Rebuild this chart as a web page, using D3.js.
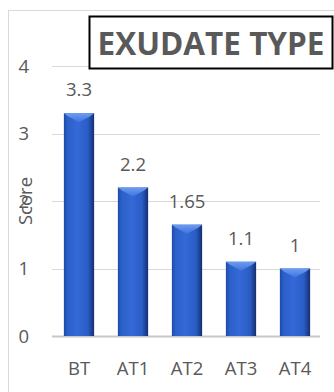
<!DOCTYPE html>
<html>
<head>
<meta charset="utf-8">
<script src="https://cdn.jsdelivr.net/npm/d3@7"></script>
<style>
  html, body { margin: 0; padding: 0; background: #fff; }
  svg { display: block; }
</style>
</head>
<body>
<svg id="chart" width="334" height="392"></svg>
<script>
// Exudate score before treatment (BT) and after each treatment (AT1..AT4)
const categories = ["BT", "AT1", "AT2", "AT3", "AT4"];
const scores = [3.3, 2.2, 1.65, 1.1, 1];
const valueLabels = ["3.3", "2.2", "1.65", "1.1", "1"];
const yTicks = [0, 1, 2, 3, 4];
const chartTitle = "EXUDATE TYPE";
const yAxisTitle = "Score";

const svg = d3.select("#chart");
const font = "'Open Sans', 'Noto Sans', sans-serif";
const textColor = "#595959";
const labelSize = 18.5;

const plot = { left: 52, right: 322, top: 66, bottom: 336 };

const x = d3.scaleBand()
  .domain(categories)
  .range([plot.left, plot.right])
  .paddingInner(0.44)
  .paddingOuter(0.22);

const y = d3.scaleLinear()
  .domain([0, 4])
  .range([plot.bottom, plot.top]);

// Chart area frame
svg.append("rect")
  .attr("x", 8.5).attr("y", 10.5)
  .attr("width", 340).attr("height", 400)
  .attr("fill", "#fff")
  .attr("stroke", "#d9d9d9")
  .attr("stroke-width", 1);

// Gradients for the bevelled bars
const defs = svg.append("defs");
const body = defs.append("linearGradient").attr("id", "barBody")
  .attr("x1", "0").attr("x2", "1").attr("y1", "0").attr("y2", "0");
[[0, "#1d4aa8"], [0.12, "#2b5fc8"], [0.45, "#3469d8"], [0.8, "#2a5cc4"], [1, "#142f6e"]]
  .forEach(([o, c]) => body.append("stop").attr("offset", o).attr("stop-color", c));
const cap = defs.append("linearGradient").attr("id", "barCap")
  .attr("x1", "0").attr("x2", "0").attr("y1", "0").attr("y2", "1");
[[0, "#6d9cf0"], [1, "#3f74dc"]]
  .forEach(([o, c]) => cap.append("stop").attr("offset", o).attr("stop-color", c));

// Horizontal gridlines
svg.append("g")
  .selectAll("line")
  .data(yTicks)
  .join("line")
  .attr("x1", plot.left).attr("x2", plot.right - 2)
  .attr("y1", d => Math.round(y(d)) + 0.5)
  .attr("y2", d => Math.round(y(d)) + 0.5)
  .attr("stroke", d => d === 0 ? "#c8c8c8" : "#d9d9d9")
  .attr("stroke-width", d => d === 0 ? 2 : 1);

// Y axis tick labels
const yAxis = d3.axisLeft(y).tickValues(yTicks).tickSize(0).tickPadding(0).tickFormat(d3.format("d"));
const gy = svg.append("g").attr("transform", "translate(29,0)").call(yAxis);
gy.select(".domain").remove();
gy.selectAll("text")
  .attr("font-family", font)
  .attr("font-size", labelSize)
  .attr("fill", textColor)
  .attr("dy", "0.35em");

// Bars
const bars = svg.append("g").selectAll("g")
  .data(categories.map((c, i) => ({ c, v: scores[i], label: valueLabels[i] })))
  .join("g");

bars.append("rect")
  .attr("x", d => x(d.c))
  .attr("y", d => y(d.v))
  .attr("width", x.bandwidth())
  .attr("height", d => y(0) - y(d.v))
  .attr("fill", "url(#barBody)");

// Bevelled top of each bar
bars.append("path")
  .attr("d", d => {
    const x0 = x(d.c), w = x.bandwidth(), t = y(d.v), h = 9;
    return `M${x0},${t}L${x0 + w},${t}L${x0 + w - 4},${t + 3}L${x0 + w / 2},${t + h}L${x0 + 4},${t + 3}Z`;
  })
  .attr("fill", "url(#barCap)");

// Value labels
bars.append("text")
  .attr("x", d => x(d.c) + x.bandwidth() / 2)
  .attr("y", d => y(d.v) - 17)
  .attr("text-anchor", "middle")
  .attr("font-family", font)
  .attr("font-size", labelSize)
  .attr("fill", textColor)
  .text(d => d.label);

// Category labels
const xAxis = d3.axisBottom(x).tickSize(0).tickPadding(0);
const gx = svg.append("g").attr("transform", `translate(0,${plot.bottom})`).call(xAxis);
gx.select(".domain").remove();
gx.selectAll("text")
  .attr("font-family", font)
  .attr("font-size", labelSize)
  .attr("fill", textColor)
  .attr("dy", "39");

// Y axis title
svg.append("text")
  .attr("transform", `translate(32,${(plot.top + plot.bottom) / 2}) rotate(-90)`)
  .attr("text-anchor", "middle")
  .attr("font-family", font)
  .attr("font-size", labelSize)
  .attr("fill", textColor)
  .text(yAxisTitle);

// Boxed chart title
svg.append("rect")
  .attr("x", 89.5).attr("y", 16.5)
  .attr("width", 243).attr("height", 52)
  .attr("fill", "#fff")
  .attr("stroke", "#000")
  .attr("stroke-width", 2);
svg.append("text")
  .attr("x", 211).attr("y", 55)
  .attr("text-anchor", "middle")
  .attr("font-family", font)
  .attr("font-weight", "bold")
  .attr("font-size", 31.5)
  .attr("fill", textColor)
  .text(chartTitle);
</script>
</body>
</html>
